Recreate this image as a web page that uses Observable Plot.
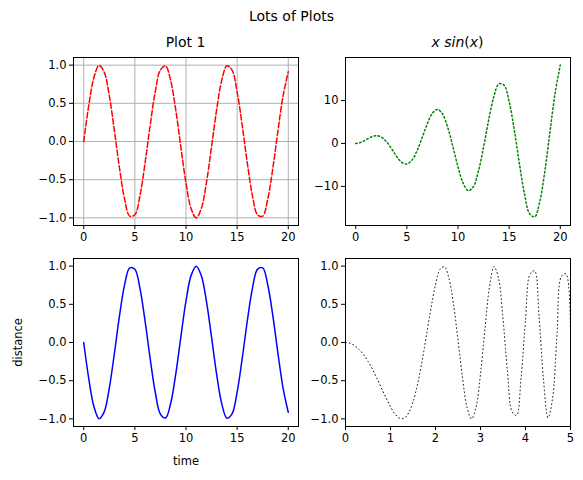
<!DOCTYPE html>
<html lang="en">
<head>
<meta charset="UTF-8">
<script src="https://cdn.jsdelivr.net/npm/d3@7"></script>
<script src="https://cdn.jsdelivr.net/npm/@observablehq/plot@0.6"></script>
<style>
  body { margin: 0; background: #fff; font-family: "DejaVu Sans", sans-serif; }
  #wrap { position: relative; width: 583px; height: 480px; }
  .p { position: absolute; }
  .t { position: absolute; font-size: 14px; text-align: center; }
</style>
</head>
<body>
<div id="wrap">
  <div class="t" style="left:0;width:583px;top:8px">Lots of Plots</div>
  <div class="t" style="left:73px;width:225px;top:34px">Plot 1</div>
  <div class="t" style="left:345px;width:225px;top:34px"><i>x sin</i>(<i>x</i>)</div>
</div>
<script>
// x positions, step 0.5 from 0 to 20
const xs = d3.range(0, 20.01, 0.5);
const sinVals = [0, .479, .841, .997, .909, .598, .141, -.351, -.757, -.978, -.959, -.706, -.279, .215, .657, .938, .989, .798, .412, -.075,
  -.544, -.879, -1.0, -.875, -.537, -.066, .420, .804, .991, .936, .650, .206, -.288, -.712, -.961, -.976, -.750, -.342, .151, .604, .913];
const xsinVals = [0, .240, .841, 1.496, 1.818, 1.495, .423, -1.229, -3.028, -4.401, -4.795, -3.883, -1.674, 1.398, 4.599, 7.035, 7.912, 6.783, 3.708, -.713,
  -5.44, -9.23, -11.0, -10.06, -6.44, -.825, 5.46, 10.85, 13.87, 13.57, 9.75, 3.19, -4.61, -11.75, -16.34, -17.08, -13.5, -6.33, 2.87, 11.78, 18.26];
const distVals = [0, -.479, -.841, -.997, -.909, -.598, -.141, .351, .757, .978, .959, .706, .279, -.215, -.657, -.938, -.989, -.798, -.412, .075,
  .544, .879, 1.0, .875, .537, .066, -.420, -.804, -.991, -.936, -.650, -.206, .288, .712, .961, .976, .750, .342, -.151, -.604, -.913];
// x positions, step 0.1 from 0 to 5
const xs2 = d3.range(0, 5.001, 0.1);
const scatVals = [0, -.01, -.04, -.09, -.159, -.247, -.352, -.471, -.597, -.724, -.841, -.936, -.991, -.993, -.925, -.778, -.549, -.248, .098, .452,
  .757, .957, .992, .838, .501, .033, -.459, -.846, -1.0, -.850, -.412, .184, .728, .994, .845, .311, -.384, -.902, -.954, -.477,
  .288, .892, .939, .352, -.488, -.985, -.739, .098, .867, .898, .132];

const fmt1 = d3.format(".1f");
const wrap = document.getElementById("wrap");

function panel(left, top, opts, marks) {
  const p = Plot.plot({
    width: 300, height: 232,
    marginLeft: 73, marginRight: 2, marginTop: 27, marginBottom: 37,
    style: {fontFamily: "DejaVu Sans", fontSize: "11.5px", color: "#000", background: "none", overflow: "visible"},
    x: {domain: opts.xd, ticks: opts.xt},
    y: {domain: opts.yd, ticks: opts.yt},
    marks: [
      opts.grid ? Plot.gridX(opts.xt, {stroke: "#b0b0b0", strokeOpacity: 1}) : null,
      opts.grid ? Plot.gridY(opts.yt, {stroke: "#b0b0b0", strokeOpacity: 1}) : null,
      Plot.axisX(opts.xt, {tickSize: 4, tickPadding: 3, label: opts.xl || null, labelAnchor: "center", labelArrow: "none", labelOffset: 38}),
      Plot.axisY(opts.yt, {tickSize: 4, tickPadding: 3, tickFormat: opts.yf, label: opts.yl || null, labelAnchor: "center", labelArrow: "none", labelOffset: 60}),
      ...marks,
      Plot.frame({stroke: "#000"})
    ]
  });
  const d = document.createElement("div");
  d.className = "p";
  d.style.left = left + "px";
  d.style.top = top + "px";
  d.append(p);
  wrap.append(d);
}

const t5 = [0, 5, 10, 15, 20];
const yUnit = [-1, -0.5, 0, 0.5, 1];

panel(0, 30, {xd: [-1, 21], xt: t5, yd: [-1.1, 1.1], yt: yUnit, yf: fmt1, grid: true},
  [Plot.line(xs, {x: d => d, y: (d, i) => sinVals[i], stroke: "red", strokeWidth: 1.5, strokeDasharray: "5.5,2.4", curve: "catmull-rom"})]);

panel(272, 30, {xd: [-1, 21], xt: t5, yd: [-19.1, 20], yt: [-10, 0, 10], yf: d3.format("d")},
  [Plot.line(xs, {x: d => d, y: (d, i) => xsinVals[i], stroke: "green", strokeWidth: 1.5, strokeDasharray: "1.5,2.5", curve: "catmull-rom"})]);

panel(0, 231, {xd: [-1, 21], xt: t5, yd: [-1.1, 1.1], yt: yUnit, yf: fmt1, xl: "time", yl: "distance"},
  [Plot.line(xs, {x: d => d, y: (d, i) => distVals[i], stroke: "blue", strokeWidth: 1.5, curve: "catmull-rom"})]);

panel(272, 231, {xd: [0, 5], xt: [0, 1, 2, 3, 4, 5], yd: [-1.1, 1.1], yt: yUnit, yf: fmt1},
  [Plot.line(xs2, {x: d => d, y: (d, i) => scatVals[i], stroke: "black", strokeWidth: 1, strokeDasharray: "0.8,3", curve: "catmull-rom"})]);
</script>
</body>
</html>
